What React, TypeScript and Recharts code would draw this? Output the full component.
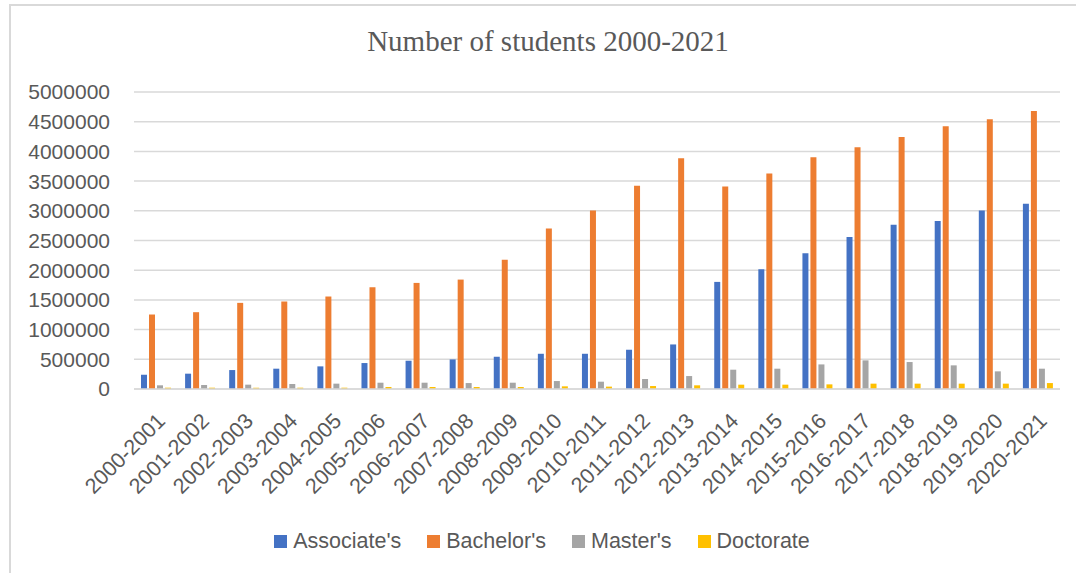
import React from 'react';
import {
    BarChart,
    Bar,
    XAxis,
    YAxis,
    CartesianGrid,
    Legend
} from 'recharts';

const years = [
    '2000-2001', '2001-2002', '2002-2003', '2003-2004', '2004-2005', '2005-2006', '2006-2007',
    '2007-2008', '2008-2009', '2009-2010', '2010-2011', '2011-2012', '2012-2013', '2013-2014',
    '2014-2015', '2015-2016', '2016-2017', '2017-2018', '2018-2019', '2019-2020', '2020-2021'
];

const associates = [
    240000, 258000, 319000, 342000, 381000, 437000, 476000, 498000, 543000, 593000, 593000,
    661000, 750000, 1803000, 2016000, 2284000, 2559000, 2766000, 2828000, 3007000, 3119000
];

const bachelors = [
    1254000, 1293000, 1450000, 1473000, 1557000, 1713000, 1786000, 1842000, 2178000, 2704000, 3007000,
    3421000, 3886000, 3410000, 3628000, 3903000, 4071000, 4244000, 4423000, 4541000, 4681000
];

const masters = [
    62000, 67000, 73000, 84000, 90000, 106000, 106000, 100000, 106000, 134000, 123000,
    168000, 218000, 325000, 342000, 414000, 482000, 454000, 398000, 297000, 342000
];

const doctorates = [
    22000, 22000, 22000, 22000, 22000, 34000, 34000, 34000, 34000, 45000, 40000,
    50000, 62000, 73000, 73000, 78000, 90000, 90000, 90000, 90000, 100000
];

const yTicks = [0, 500000, 1000000, 1500000, 2000000, 2500000, 3000000, 3500000, 4000000, 4500000, 5000000];

const series = [
    { key: 'associates', name: "Associate's", color: '#4472C4' },
    { key: 'bachelors', name: "Bachelor's", color: '#ED7D31' },
    { key: 'masters', name: "Master's", color: '#A5A5A5' },
    { key: 'doctorates', name: 'Doctorate', color: '#FFC000' }
];

const data = years.map((year, i) => ({
    year,
    associates: associates[i],
    bachelors: bachelors[i],
    masters: masters[i],
    doctorates: doctorates[i]
}));

const FONT = '"Liberation Sans", Arial, sans-serif';
const TEXT = '#595959';

const YearTick = ({ x, y, payload }: any) => (
    <text
        x={x + 5}
        y={y + 28}
        dy="0.35em"
        textAnchor="end"
        transform={`rotate(-45, ${x + 5}, ${y + 28})`}
        fill={TEXT}
        fontSize={21.5}
        fontFamily={FONT}
    >
        {payload.value}
    </text>
);

const LegendContent = () => (
    <div style={{ display: 'flex', justifyContent: 'center', alignItems: 'center', fontFamily: FONT, fontSize: 21.5, color: TEXT }}>
        {series.map((s) => (
            <div key={s.key} style={{ display: 'flex', alignItems: 'center', margin: '0 13px' }}>
                <span style={{ width: 13, height: 13, background: s.color, marginRight: 6, display: 'inline-block' }} />
                <span>{s.name}</span>
            </div>
        ))}
    </div>
);

export default function App() {
    return (
        <div style={{ position: 'fixed', left: 0, top: 0, width: 1076, height: 573, overflow: 'hidden', background: '#fff' }}>
            <div style={{ position: 'absolute', left: 9, top: 4, width: 1200, height: 700, border: '2px solid #d9d9d9' }} />
            <div
                style={{
                    position: 'absolute',
                    left: 0,
                    top: 24,
                    width: 1096,
                    textAlign: 'center',
                    fontFamily: '"Liberation Serif", "Times New Roman", serif',
                    fontSize: 29,
                    color: TEXT,
                    lineHeight: '34px'
                }}
            >
                Number of students 2000-2021
            </div>
            <div style={{ position: 'absolute', left: 0, top: 0 }}>
                <BarChart
                    width={1076}
                    height={573}
                    data={data}
                    margin={{ top: 92, right: 16, left: 24, bottom: 14 }}
                    barSize={6}
                    barGap={2}
                >
                    <CartesianGrid vertical={false} stroke="#d9d9d9" strokeWidth={1.5} />
                    <XAxis
                        dataKey="year"
                        height={140}
                        interval={0}
                        tick={<YearTick />}
                        tickLine={false}
                        tickSize={0}
                        tickMargin={0}
                        axisLine={{ stroke: '#d9d9d9', strokeWidth: 1.5 }}
                    />
                    <YAxis
                        width={110}
                        domain={[0, 5000000]}
                        ticks={yTicks}
                        interval={0}
                        tickLine={false}
                        axisLine={false}
                        tickSize={0}
                        tickMargin={24}
                        tick={{ fill: TEXT, fontSize: 21, fontFamily: FONT }}
                    />
                    <Legend verticalAlign="bottom" height={30} content={<LegendContent />} />
                    {series.map((s) => (
                        <Bar key={s.key} dataKey={s.key} name={s.name} fill={s.color} isAnimationActive={false} />
                    ))}
                </BarChart>
            </div>
        </div>
    );
}
